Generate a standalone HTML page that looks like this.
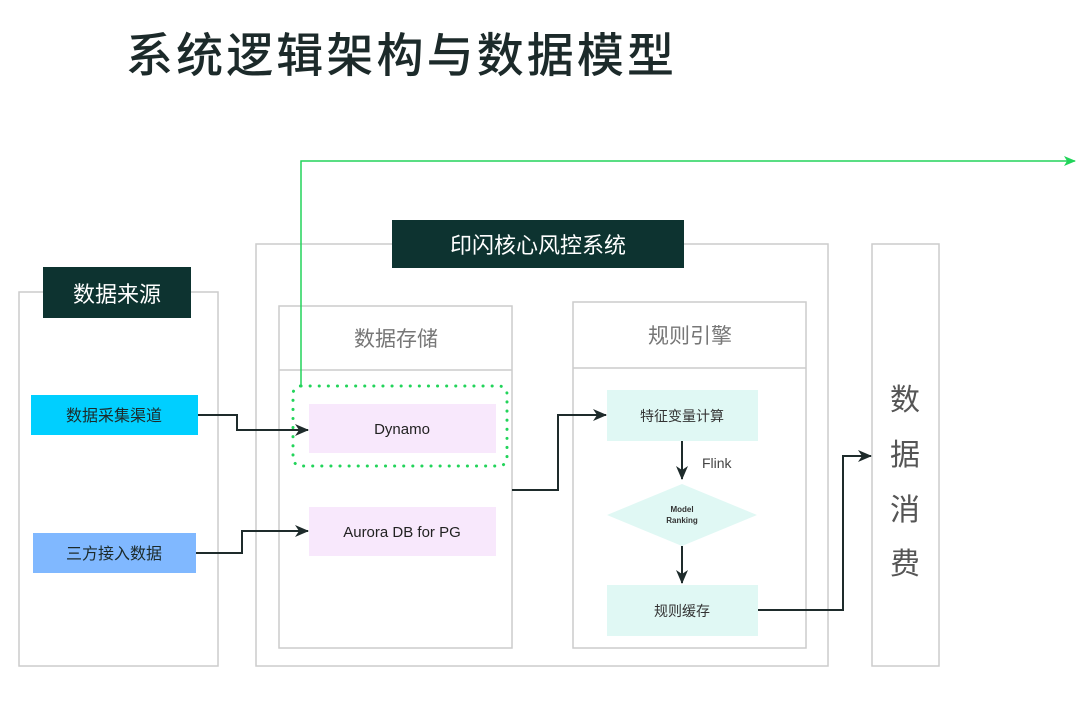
<!DOCTYPE html>
<html><head><meta charset="utf-8"><style>
body{margin:0;width:1080px;height:717px;background:#fff;overflow:hidden;font-family:"Liberation Sans","Noto Sans CJK SC",sans-serif;}
</style></head><body>
<svg width="1080" height="717" xmlns="http://www.w3.org/2000/svg" font-family="Liberation Sans, Noto Sans CJK SC, sans-serif">
<defs>
<marker id="a" markerWidth="14" markerHeight="12" refX="13" refY="6" orient="auto" markerUnits="userSpaceOnUse"><path d="M0,0 L14,6 L0,12 L4,6z" fill="#1e2b2b"/></marker>
<marker id="g" markerWidth="12" markerHeight="10" refX="11" refY="5" orient="auto" markerUnits="userSpaceOnUse"><path d="M0,0 L12,5 L0,10 L3,5z" fill="#22d45a"/></marker>
</defs>
<text x="126" y="72" font-size="47" fill="#1c2a2a" font-weight="500" textLength="548" lengthAdjust="spacing">系统逻辑架构与数据模型</text>
<rect x="19" y="292" width="199" height="374" fill="none" stroke="#ccc" stroke-width="1.5"/>
<rect x="256" y="244" width="572" height="422" fill="none" stroke="#ccc" stroke-width="1.5"/>
<rect x="872" y="244" width="67" height="422" fill="none" stroke="#ccc" stroke-width="1.5"/>
<rect x="279" y="306" width="233" height="342" fill="none" stroke="#ccc" stroke-width="1.5"/>
<line x1="279" y1="370" x2="512" y2="370" stroke="#ccc" stroke-width="1.5"/>
<rect x="573" y="302" width="233" height="346" fill="none" stroke="#ccc" stroke-width="1.5"/>
<line x1="573" y1="368" x2="806" y2="368" stroke="#ccc" stroke-width="1.5"/>
<rect x="43" y="267" width="148" height="51" fill="#0d3330"/>
<text x="117" y="302" font-size="22" fill="#fff" text-anchor="middle">数据来源</text>
<rect x="392" y="220" width="292" height="48" fill="#0d3330"/>
<text x="538" y="253" font-size="22" fill="#fff" text-anchor="middle">印闪核心风控系统</text>
<text x="396" y="346" font-size="21" fill="#777" text-anchor="middle">数据存储</text>
<text x="690" y="343" font-size="21" fill="#777" text-anchor="middle">规则引擎</text>
<g font-size="30" fill="#555" text-anchor="middle"><text x="905" y="410">数</text><text x="905" y="465">据</text><text x="905" y="520">消</text><text x="905" y="530" dy="0"> </text></g>
<text x="905" y="574" font-size="30" fill="#555" text-anchor="middle">费</text>
<rect x="31" y="395" width="167" height="40" fill="#00cfff"/>
<text x="114" y="421" font-size="16" fill="#1c2a2a" text-anchor="middle">数据采集渠道</text>
<rect x="33" y="533" width="163" height="40" fill="#80b8ff"/>
<text x="114" y="559" font-size="16" fill="#1c2a2a" text-anchor="middle">三方接入数据</text>
<rect x="309" y="404" width="187" height="49" fill="#f8e8fc"/>
<text x="402" y="434" font-size="15" fill="#222" text-anchor="middle">Dynamo</text>
<rect x="309" y="507" width="187" height="49" fill="#f8e8fc"/>
<text x="402" y="537" font-size="15" fill="#222" text-anchor="middle">Aurora DB for PG</text>
<rect x="293" y="386" width="214" height="80" rx="8" fill="none" stroke="#22d45a" stroke-width="3" stroke-dasharray="0.1 9" stroke-linecap="round"/>
<rect x="607" y="390" width="151" height="51" fill="#e0f8f4"/>
<text x="682" y="421" font-size="14" fill="#333" text-anchor="middle">特征变量计算</text>
<polygon points="607,515 682,484 757,515 682,546" fill="#e0f8f4"/>
<text x="682" y="512" font-size="8" font-weight="bold" fill="#333" text-anchor="middle">Model</text>
<text x="682" y="523" font-size="8" font-weight="bold" fill="#333" text-anchor="middle">Ranking</text>
<rect x="607" y="585" width="151" height="51" fill="#e0f8f4"/>
<text x="682" y="616" font-size="14" fill="#333" text-anchor="middle">规则缓存</text>
<text x="702" y="468" font-size="14" fill="#444">Flink</text>
<g fill="none" stroke="#1e2b2b" stroke-width="2">
<polyline points="198,415 237,415 237,430 308,430" marker-end="url(#a)"/>
<polyline points="196,553 242,553 242,531 308,531" marker-end="url(#a)"/>
<polyline points="512,490 558,490 558,415 606,415" marker-end="url(#a)"/>
<line x1="682" y1="441" x2="682" y2="479" marker-end="url(#a)"/>
<line x1="682" y1="546" x2="682" y2="583" marker-end="url(#a)"/>
<polyline points="758,610 843,610 843,456 871,456" marker-end="url(#a)"/>
</g>
<polyline points="301,386 301,161 1075,161" fill="none" stroke="#22d45a" stroke-width="1.5" marker-end="url(#g)"/>
</svg>
</body></html>
